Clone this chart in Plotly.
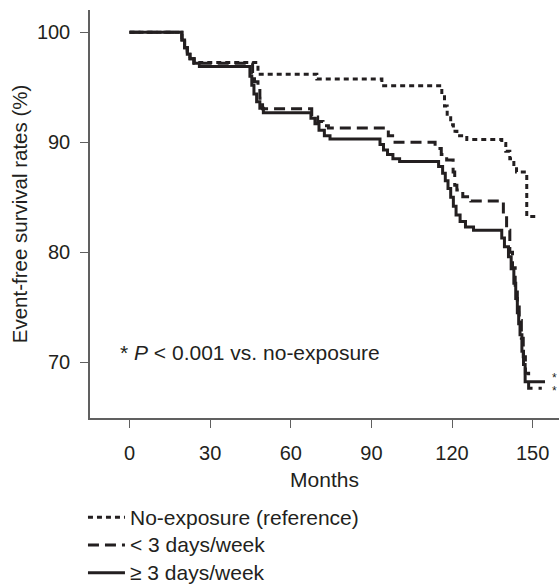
import plotly.graph_objects as go

# ---- data ----
series_names = ["No-exposure (reference)", "< 3 days/week", "\u2265 3 days/week"]

noexp_t = [0, 19.5, 20.5, 21.5, 22.5, 24, 47.8, 69.7, 93.9, 116.2, 117.2, 118.2, 119.5, 120.5,
           121.8, 125.5, 138.5, 140, 141.5, 143, 144, 147.8, 151]
noexp_s = [100, 99.3, 98.6, 98.0, 97.6, 97.25, 96.2, 95.75, 95.15, 94.3, 93.3, 92.4, 91.6, 91.0,
           90.6, 90.25, 89.9, 89.2, 88.5, 87.8, 87.3, 83.25, 83.25]

lt3_t = [0, 19.5, 20.5, 21.5, 22.5, 24, 45.8, 46.5, 47.8, 48.5, 49.5, 67.8, 70, 72, 74,
         96.3, 98.8, 113.7, 116, 118, 120.4, 121, 121.8, 124, 127, 139.1, 140.3, 141.5, 142.5,
         143.5, 144.3, 145, 145.8, 146.5, 147.3, 148.5, 153.4]
lt3_s = [100, 99.3, 98.6, 98.0, 97.6, 97.2, 96.3, 95.5, 95.0, 94.0, 93.05, 92.3, 91.9, 91.5, 91.3,
         90.6, 90.0, 89.45, 88.9, 88.4, 87.3, 86.1, 85.66, 85.05, 84.66, 83.5, 82.0, 80.0, 78.6,
         77.0, 75.3, 73.8, 72.2, 70.5, 69.0, 67.64, 67.64]

ge3_t = [0, 19.5, 20.5, 21.5, 22.5, 24, 26, 44.8, 45.5, 46.3, 47.3, 48.5, 49.8, 67.5, 69, 70.5,
         72.5, 74.6, 93.2, 94.5, 96, 98, 100.5, 115, 116.5, 117.5, 118.5, 119.5, 120.5, 121.5,
         123, 125, 128, 138.5, 139.5, 141, 142, 143, 143.7, 144.3, 144.8, 145.3, 146, 146.6,
         147.2, 154.6]
ge3_s = [100, 99.3, 98.6, 98.0, 97.6, 97.2, 96.9, 96.0, 95.2, 94.4, 93.7, 93.1, 92.7, 92.2, 91.7,
         91.1, 90.6, 90.3, 89.8, 89.3, 88.9, 88.5, 88.25, 87.8, 87.2, 86.5, 85.8, 85.0, 84.2,
         83.4, 82.8, 82.3, 82.0, 81.3, 80.5, 79.6, 78.5, 77.2, 75.8, 74.5, 73.5, 72.5, 71.0,
         69.8, 68.24, 68.24]

x_ticks = [0, 30, 60, 90, 120, 150]
y_ticks = [70, 80, 90, 100]

INK = "#231f20"
AX = "#606060"
FONT = "Liberation Sans, Arial, Helvetica, sans-serif"

fig = go.Figure()
styles = [("5px,4px", noexp_t, noexp_s), ("11px,6px", lt3_t, lt3_s), ("solid", ge3_t, ge3_s)]
for name, (dash, t, s) in zip(series_names, styles):
    fig.add_trace(go.Scatter(x=t, y=s, mode="lines",
                             name='<span style="font-size:21px">' + name + '</span>',
                             line=dict(shape="hv", color=INK, width=3, dash=dash)))

fig.add_annotation(x=-4.4, y=70.9, xref="x", yref="y", xanchor="left", yanchor="middle",
                   text="* <i>P</i> < 0.001 vs. no-exposure", showarrow=False,
                   font=dict(size=21, color=INK, family=FONT))
fig.add_annotation(x=158.2, y=68.55, xref="x", yref="y", xanchor="center", yanchor="middle",
                   text="*", showarrow=False, font=dict(size=12, color=INK, family=FONT))
fig.add_annotation(x=158.2, y=67.35, xref="x", yref="y", xanchor="center", yanchor="middle",
                   text="*", showarrow=False, font=dict(size=12, color=INK, family=FONT))

fig.update_layout(
    width=559, height=584,
    margin=dict(l=90, r=0, t=10, b=166, autoexpand=False),
    paper_bgcolor="white", plot_bgcolor="white",
    font=dict(family=FONT, size=21, color=INK),
    showlegend=True,
    legend=dict(x=-0.015, y=-0.197, xanchor="left", yanchor="top",
                font=dict(size=19, color=INK), bgcolor="rgba(0,0,0,0)",
                itemwidth=37, tracegroupgap=0),
)
fig.update_xaxes(range=[-14.7, 159.8], tickvals=x_ticks, ticks="outside", ticklen=8,
                 tickcolor=AX, showline=True, linecolor=AX, linewidth=1.5,
                 showgrid=False, zeroline=False, automargin=False, ticklabelstandoff=8,
                 title=dict(text="Months", font=dict(size=21, color=INK), standoff=10),
                 tickfont=dict(size=20, color=INK))
fig.update_yaxes(range=[64.94, 102.03], tickvals=y_ticks, ticks="outside", ticklen=8,
                 tickcolor=AX, showline=True, linecolor=AX, linewidth=1.5,
                 showgrid=False, zeroline=False, automargin=False, ticklabelstandoff=6,
                 title=dict(text="Event-free survival rates (%)", font=dict(size=20.5, color=INK),
                            standoff=4),
                 tickfont=dict(size=20, color=INK))

fig.write_html("out.html", config={"displayModeBar": False},
               post_script="document.body.style.margin='0';document.body.style.padding='0';")
